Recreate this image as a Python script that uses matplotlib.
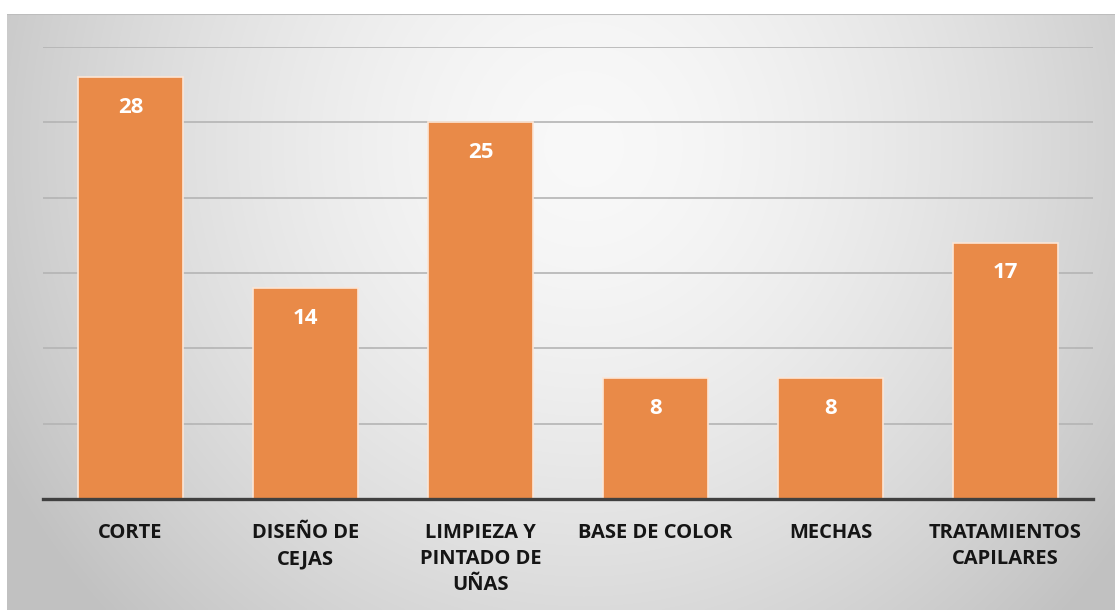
import numpy as np
import matplotlib
matplotlib.use("Agg")
import matplotlib.pyplot as plt

categorias = ["CORTE", "DISEÑO DE\nCEJAS", "LIMPIEZA Y\nPINTADO DE\nUÑAS",
              "BASE DE COLOR", "MECHAS", "TRATAMIENTOS\nCAPILARES"]
valores = [28, 14, 25, 8, 8, 17]

NARANJA = "#E98A48"
BORDE   = "#FCE6D6"
GRID    = "#B4B4B4"
EJE     = "#404040"
FUENTE  = ["Open Sans", "DejaVu Sans"]

W, H = 1115, 610
fig = plt.figure(figsize=(W / 100, H / 100), dpi=100, facecolor="white")

# fondo con degradado radial gris
bg = fig.add_axes([7 / W, 0, 1 - 7 / W, 1 - 14 / H])
bg.set_axis_off()
ny, nx = 300, 560
yy, xx = np.mgrid[0:ny, 0:nx]
cx, cy = nx * 0.52, ny * 0.22
d = np.sqrt(((xx - cx) / (nx * 0.55)) ** 2 + ((yy - cy) / (ny * 1.05)) ** 2)
d = np.clip(d, 0, 1.2)
g = 0.975 - 0.19 * d ** 1.6
g = np.clip(g, 0.76, 1.0)
bg.imshow(np.dstack([g, g, g]), aspect="auto", extent=[0, 1, 0, 1],
          origin="upper", interpolation="bilinear")
bg.set_xlim(0, 1); bg.set_ylim(0, 1)
# borde superior del panel
bg.axhline(1, color="#BDBDBD", lw=1.5)

ax = fig.add_axes([43 / W, 1 - 499 / H, (1093 - 43) / W, (499 - 47) / H])
ax.patch.set_alpha(0)
x = np.arange(len(categorias))
bars = ax.bar(x, valores, width=0.6, color=NARANJA, edgecolor=BORDE,
              linewidth=1.2, zorder=2)
ax.set_xlim(-0.5, len(categorias) - 0.5)
ax.set_ylim(0, 30)
ax.set_yticks(np.arange(0, 31, 5))
ax.yaxis.grid(True, color=GRID, lw=1.2, zorder=1)
ax.set_axisbelow(True)
ax.tick_params(axis="y", left=False, labelleft=False)
ax.tick_params(axis="x", bottom=False, pad=14)
for s in ["top", "right", "left"]:
    ax.spines[s].set_visible(False)
ax.spines["bottom"].set_color(EJE)
ax.spines["bottom"].set_linewidth(2.4)
ax.spines["bottom"].set_zorder(3)

ax.set_xticks(x)
ax.set_xticklabels(categorias, fontsize=14.5, fontweight="bold", color="#151515",
                   family=FUENTE, linespacing=1.4, va="top")

for b, v in zip(bars, valores):
    ax.annotate(str(v), (b.get_x() + b.get_width() / 2, v),
                xytext=(0, -30), textcoords="offset pixels",
                ha="center", va="center", color="white", fontsize=16,
                fontweight="bold", family=FUENTE, zorder=4)

fig.savefig("out.png", dpi=100, facecolor="white")
